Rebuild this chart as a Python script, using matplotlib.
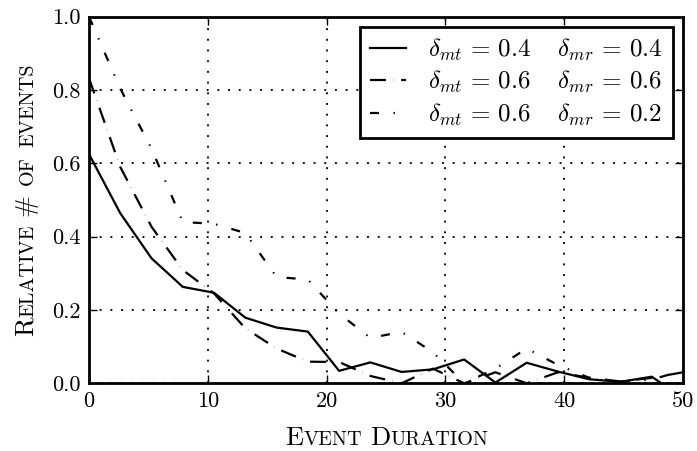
import numpy as np
import matplotlib
matplotlib.use("Agg")
import matplotlib.pyplot as plt

# ---- data ----
duration = np.linspace(0, 50, 20)
rel_a = [0.625, 0.464, 0.341, 0.263, 0.247, 0.179, 0.152, 0.141, 0.034, 0.057,
         0.031, 0.038, 0.065, 0.002, 0.056, 0.032, 0.011, 0.004, 0.018, -0.04]
rel_b = [0.832, 0.59, 0.427, 0.309, 0.245, 0.15, 0.095, 0.059, 0.058, 0.02,
         0.0, 0.04, 0.0, 0.03, 0.0, 0.03, 0.015, 0.005, 0.015, 0.03]
rel_c = [1.0, 0.804, 0.64, 0.44, 0.435, 0.41, 0.29, 0.283, 0.19, 0.124,
         0.14, 0.085, 0.0, 0.04, 0.095, 0.05, 0.015, 0.005, 0.01, 0.035]
labels = [r'$\delta_{mt}\,=\,0.4\quad\;\delta_{mr}\,=\,0.4$',
          r'$\delta_{mt}\,=\,0.6\quad\;\delta_{mr}\,=\,0.6$',
          r'$\delta_{mt}\,=\,0.6\quad\;\delta_{mr}\,=\,0.2$']
xticks = [0, 10, 20, 30, 40, 50]
yticks = [0.0, 0.2, 0.4, 0.6, 0.8, 1.0]
xlabel = "Event Duration"
ylabel = "Relative # of events"

plt.rcParams['font.family'] = ['cmr10', 'DejaVu Serif']
plt.rcParams['mathtext.fontset'] = 'cm'
plt.rcParams['axes.formatter.use_mathtext'] = True
plt.rcParams['lines.scale_dashes'] = False

W, H = 697, 451
fig = plt.figure(figsize=(W / 100, H / 100), dpi=100)
ax = fig.add_axes([89 / W, 1 - 383.3 / H, (683 - 89) / W, (383.3 - 16.7) / H])

styles = ['-', (0, (11.5, 5.4, 0.15, 5.4)), (0, (6.5, 10.4, 1.0, 10.4))]
for ys, ls, lab in zip([rel_a, rel_b, rel_c], styles, labels):
    ax.plot(duration, ys, color='black', linestyle=ls, linewidth=1.6, label=lab)

ax.set_xlim(0, 50)
ax.set_ylim(0, 1.0)
ax.set_xticks(xticks)
ax.set_yticks(yticks)
ax.set_xticklabels([str(v) for v in xticks])
ax.set_yticklabels([f"{v:.1f}" for v in yticks])
ax.tick_params(direction='in', length=6, width=1, top=True, right=True,
               labelsize=16, pad=6, colors='black')
ax.grid(True, color='black', linestyle=(0, (1.4, 6.3)), linewidth=1.3)
for s in ax.spines.values():
    s.set_linewidth(2)

leg = ax.legend(loc='upper right', fontsize=18, fancybox=False, framealpha=1,
                edgecolor='black', handlelength=1.45, handletextpad=0.9,
                borderaxespad=0.4, labelspacing=0.25, borderpad=0.4)
leg.get_frame().set_linewidth(2)

fig.canvas.draw()
renderer = fig.canvas.get_renderer()


def smallcaps(text, cx, cy, big, small, vertical=False):
    runs = []
    for ch in text:
        if ch == ' ':
            runs.append((' ', big))
            continue
        if ch.islower():
            s, sz = ch.upper(), small
        else:
            s, sz = ch, big
        if runs and runs[-1][1] == sz and runs[-1][0] != ' ':
            runs[-1] = (runs[-1][0] + s, sz)
        else:
            runs.append((s, sz))
    widths = []
    objs = []
    for s, sz in runs:
        if s == ' ':
            widths.append(0.33 * sz * 100 / 72)
            objs.append(None)
            continue
        t = fig.text(0, 0, s, fontsize=sz, ha='left', va='baseline')
        widths.append(t.get_window_extent(renderer).width)
        objs.append(t)
    total = sum(widths)
    pos = -total / 2
    for t, w in zip(objs, widths):
        if t is not None:
            if vertical:
                t.set_rotation(90)
                t.set_rotation_mode('anchor')
                t.set_position((cx / W, 1 - (cy - pos) / H))
            else:
                t.set_position(((cx + pos) / W, 1 - cy / H))
        pos += w


smallcaps(xlabel, 387, 445, 19, 14.5)
smallcaps(ylabel, 33, 200, 19, 14.5, vertical=True)

fig.savefig('out.png', dpi=100)
